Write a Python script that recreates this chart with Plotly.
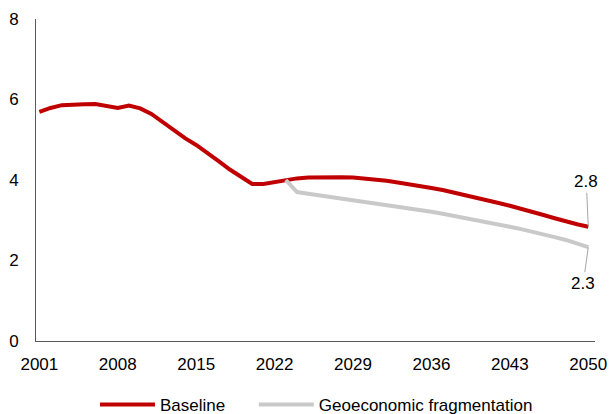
import plotly.graph_objects as go

years_base = list(range(2001, 2051))
baseline = [5.69, 5.79, 5.86, 5.88, 5.88, 5.89, 5.84, 5.79, 5.85, 5.78,
            5.64, 5.44, 5.21, 5.04, 4.87, 4.68, 4.47, 4.26, 4.07, 3.90,
            3.90, 3.95, 4.00, 4.04, 4.06, 4.07, 4.08, 4.07, 4.06, 4.04,
            4.01, 3.98, 3.94, 3.90, 3.85, 3.80, 3.75, 3.69, 3.63, 3.57,
            3.50, 3.43, 3.36, 3.29, 3.21, 3.13, 3.05, 2.97, 2.90, 2.84]

years_frag = list(range(2023, 2051))
fragmentation = [4.00, 3.70, 3.66, 3.62, 3.58, 3.55, 3.51, 3.47, 3.43, 3.39,
                 3.35, 3.30, 3.26, 3.21, 3.16, 3.11, 3.06, 3.01, 2.96, 2.90,
                 2.84, 2.78, 2.72, 2.65, 2.58, 2.51, 2.43, 2.33]

x_ticks = [2001, 2008, 2015, 2022, 2029, 2036, 2043, 2050]
y_ticks = [0, 2, 4, 6, 8]

RED = "#C00000"
GRAY = "#C9C9C9"
FONT = "Liberation Sans, Arial, sans-serif"
NBSP = "\u00a0"

fig = go.Figure()
fig.add_trace(go.Scatter(x=years_base, y=baseline, mode="lines",
                         name="Baseline" + NBSP * 5,
                         line=dict(color=RED, width=4)))
fig.add_trace(go.Scatter(x=years_frag, y=fragmentation, mode="lines",
                         name="Geoeconomic fragmentation",
                         line=dict(color=GRAY, width=4)))

fig.add_annotation(x=years_base[-1], y=baseline[-1], text=f"{baseline[-1]:.1f}",
                   showarrow=True, arrowhead=0, arrowwidth=1, arrowcolor="#A6A6A6",
                   ax=-2, ay=-45, font=dict(size=17, color="#000000"))
fig.add_annotation(x=years_frag[-1], y=fragmentation[-1], text=f"{fragmentation[-1]:.1f}",
                   showarrow=True, arrowhead=0, arrowwidth=1, arrowcolor="#A6A6A6",
                   ax=-5, ay=36, font=dict(size=17, color="#000000"))

fig.update_layout(
    width=609, height=414,
    margin=dict(l=36, r=14, t=19, b=73, autoexpand=False),
    paper_bgcolor="white", plot_bgcolor="white",
    font=dict(family=FONT, size=17, color="#000000"),
    showlegend=True,
    legend=dict(orientation="h", x=0.1055, xanchor="left", y=0.022, yanchor="middle",
                yref="container", font=dict(size=17), itemwidth=55,
                tracegroupgap=0),
)
fig.update_xaxes(range=[2000.7, 2050.6], tickvals=x_ticks, ticktext=[str(v) for v in x_ticks],
                 showgrid=False, zeroline=False, showline=True, linecolor="#595959",
                 linewidth=1, ticks="", ticklabelstandoff=8)
fig.update_yaxes(range=[0, 8], tickvals=y_ticks, showgrid=False, zeroline=False,
                 showline=True, linecolor="#595959", linewidth=1, ticks="",
                 ticklabelstandoff=13)

fig.write_html("out.html")
